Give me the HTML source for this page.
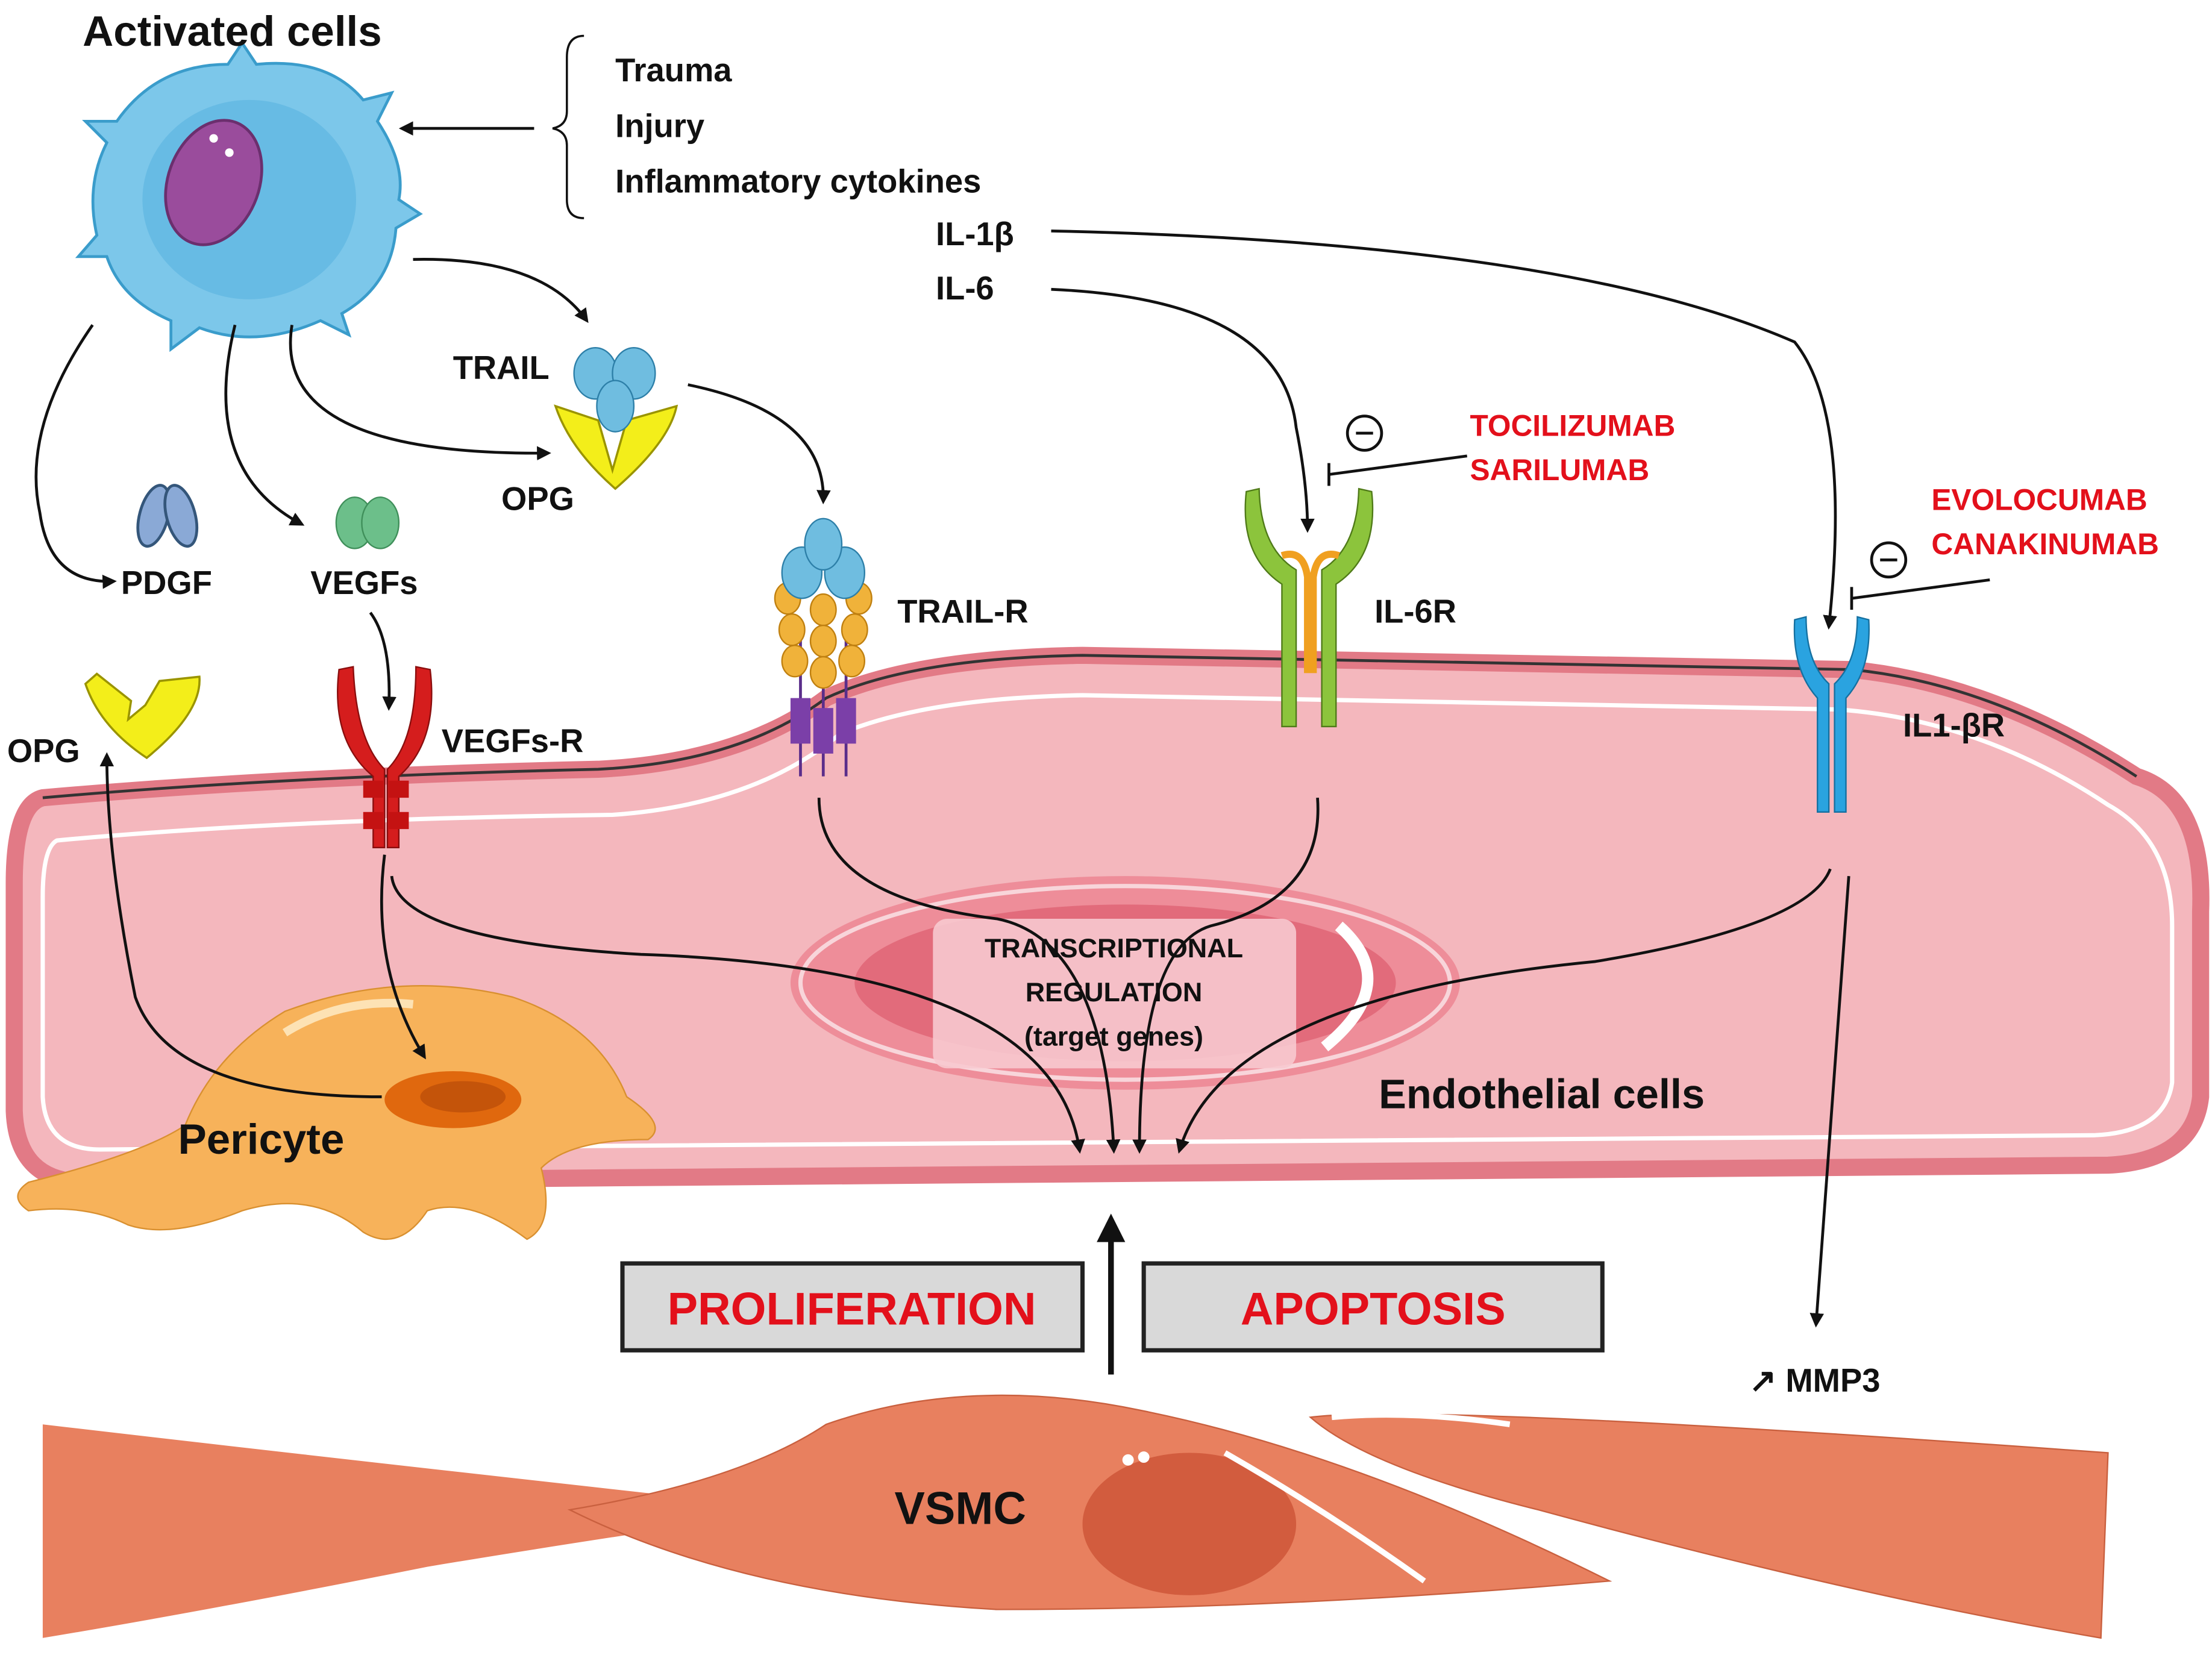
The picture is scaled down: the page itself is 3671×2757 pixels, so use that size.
<!DOCTYPE html>
<html><head><meta charset="utf-8"><style>
html,body{margin:0;padding:0;background:#fff;}
svg{display:block;}
text{font-family:"Liberation Sans",sans-serif;font-weight:bold;}
</style></head><body>
<svg width="3671" height="2757" viewBox="0 0 1553 1166" xmlns="http://www.w3.org/2000/svg">
<defs>
<marker id="a" markerWidth="10" markerHeight="10" refX="8" refY="5" orient="auto" markerUnits="userSpaceOnUse"><path d="M0,0 L10,5 L0,10 Z" fill="#111"/></marker>
</defs>
<rect width="1553" height="1166" fill="#fff"/>

<!-- endothelial cell -->
<path d="M30,560 Q200,545 420,540 Q520,535 580,490 Q640,462 760,460 L1300,470 Q1400,480 1500,545 Q1548,560 1545,640 L1545,770 Q1540,815 1480,818 L60,830 Q12,830 10,780 L10,620 Q10,565 30,560 Z" fill="#f4b7bd" stroke="#e27a86" stroke-width="12"/>
<path d="M30,560 Q200,545 420,540 Q520,535 580,490 Q640,462 760,460 L1300,470 Q1400,480 1500,545" fill="none" stroke="#333" stroke-width="2"/>
<path d="M40,590 Q200,575 430,572 Q530,565 590,515 Q650,490 760,488 L1290,498 Q1390,505 1480,565 Q1525,590 1525,650 L1525,760 Q1520,795 1470,797 L70,807 Q32,807 30,770 L30,630 Q30,595 40,590 Z" fill="none" stroke="#fff" stroke-width="3"/>
<!-- nucleus -->
<ellipse cx="790" cy="690" rx="235" ry="75" fill="#ee8d99"/>
<ellipse cx="790" cy="690" rx="228" ry="68" fill="none" stroke="#f8d5da" stroke-width="3"/>
<ellipse cx="790" cy="690" rx="190" ry="55" fill="#e26b7b"/>
<path d="M940,650 Q985,690 930,735" stroke="#fff" stroke-width="8" fill="none"/>
<rect x="655" y="645" width="255" height="105" rx="10" fill="#f7c9cf" opacity="0.9"/>
<text x="782" y="672" font-size="19" text-anchor="middle" fill="#111">TRANSCRIPTIONAL</text>
<text x="782" y="703" font-size="19" text-anchor="middle" fill="#111">REGULATION</text>
<text x="782" y="734" font-size="19" text-anchor="middle" fill="#111">(target genes)</text>
<text x="968" y="778" font-size="29" fill="#111">Endothelial cells</text>

<!-- pericyte -->
<path d="M20,830 Q100,810 130,790 Q150,740 200,710 Q280,680 360,700 Q420,720 440,770 Q470,790 455,800 Q400,800 380,820 Q390,860 370,870 Q330,840 300,850 Q280,880 255,865 Q220,835 170,850 Q120,870 90,860 Q60,845 20,850 Q5,840 20,830 Z" fill="#f7b25a" stroke="#d99030" stroke-width="1"/>
<path d="M200,725 Q240,700 290,705" stroke="#fde2b4" stroke-width="6" fill="none"/>
<ellipse cx="318" cy="772" rx="48" ry="20" fill="#e0680e"/>
<ellipse cx="325" cy="770" rx="30" ry="11" fill="#c4540a"/>
<text x="125" y="810" font-size="30" fill="#111">Pericyte</text>

<!-- VSMC -->
<path d="M30,1000 Q200,1020 560,1060 Q420,1080 300,1100 Q150,1130 30,1150 Z" fill="#e8805f"/>
<path d="M400,1060 Q520,1040 580,1000 Q680,965 800,990 Q950,1020 1130,1110 Q900,1130 700,1130 Q520,1120 400,1060 Z" fill="#e8805f" stroke="#c9603f" stroke-width="1"/>
<ellipse cx="835" cy="1070" rx="75" ry="50" fill="#d25c3e"/>
<path d="M860,1020 Q930,1060 1000,1110" stroke="#fff" stroke-width="4" fill="none"/>
<circle cx="792" cy="1025" r="4" fill="#fff"/><circle cx="803" cy="1023" r="4" fill="#fff"/>
<text x="628" y="1070" font-size="32" fill="#111">VSMC</text>
<path d="M920,995 Q1000,985 1480,1020 L1475,1150 Q1300,1120 1080,1060 Q960,1030 920,995 Z" fill="#e8805f" stroke="#c9603f" stroke-width="1"/>
<path d="M935,995 Q990,990 1060,1000" stroke="#fff" stroke-width="4" fill="none"/>

<!-- boxes -->
<rect x="437" y="887" width="323" height="61" fill="#d9d9d9" stroke="#222" stroke-width="3"/>
<text x="598" y="930" font-size="32" text-anchor="middle" fill="#e3101b">PROLIFERATION</text>
<rect x="803" y="887" width="322" height="61" fill="#d9d9d9" stroke="#222" stroke-width="3"/>
<text x="964" y="930" font-size="32" text-anchor="middle" fill="#e3101b">APOPTOSIS</text>
<line x1="780" y1="965" x2="780" y2="870" stroke="#111" stroke-width="4"/>
<path d="M770,872 L780,852 L790,872 Z" fill="#111"/>

<!-- activated cell -->
<path d="M170,30 L180,45 Q230,40 255,70 L275,65 L265,85 Q285,115 280,140 L295,150 L278,160 Q275,200 240,220 L245,235 L225,225 Q180,245 140,230 L120,245 L120,225 Q85,210 75,180 L55,180 L68,165 Q60,130 75,100 L60,85 L82,85 Q110,45 160,45 Z" fill="#7cc7ea" stroke="#3a9ccb" stroke-width="2"/>
<ellipse cx="175" cy="140" rx="75" ry="70" fill="#5ab3e0" opacity="0.6"/>
<ellipse cx="150" cy="128" rx="32" ry="45" transform="rotate(20 150 128)" fill="#9a4c9c" stroke="#6b2f6e" stroke-width="2"/>
<circle cx="150" cy="97" r="3" fill="#fff"/><circle cx="161" cy="107" r="3" fill="#fff"/>
<text x="58" y="32" font-size="30" fill="#111">Activated cells</text>

<!-- trigger text -->
<path d="M410,25 Q398,25 398,40 L398,78 Q398,88 388,90 Q398,92 398,102 L398,140 Q398,153 410,153" fill="none" stroke="#111" stroke-width="1.5"/>
<line x1="375" y1="90" x2="282" y2="90" stroke="#111" stroke-width="2" marker-end="url(#a)"/>
<text x="432" y="57" font-size="23" fill="#111">Trauma</text>
<text x="432" y="96" font-size="23" fill="#111">Injury</text>
<text x="432" y="135" font-size="23" fill="#111">Inflammatory  cytokines</text>
<text x="657" y="172" font-size="23" fill="#111">IL-1β</text>
<text x="657" y="210" font-size="23" fill="#111">IL-6</text>

<!-- arrows from activated cell -->
<g fill="none" stroke="#111" stroke-width="2" marker-end="url(#a)">
<path d="M290,182 Q380,180 412,225"/>
<path d="M205,228 Q190,320 385,318"/>
<path d="M165,228 Q140,330 212,368"/>
<path d="M65,228 Q15,300 28,360 Q35,410 80,408"/>
<path d="M483,270 Q580,290 578,352"/>
<path d="M260,430 Q275,450 273,497"/>
<path d="M738,162 Q1100,170 1260,240 Q1300,290 1284,440"/>
<path d="M738,203 Q900,210 910,300 Q918,340 918,372"/>
<path d="M270,600 Q260,680 298,742"/>
<path d="M268,770 Q120,770 95,700 Q75,600 75,530"/>
<path d="M1298,615 L1275,930"/>
<path d="M275,615 Q280,660 450,670 Q740,680 758,808"/>
<path d="M575,560 Q575,630 700,645 Q775,660 782,808"/>
<path d="M925,560 Q930,630 850,650 Q800,665 800,808"/>
<path d="M1285,610 Q1270,650 1120,675 Q860,700 828,808"/>
</g>

<!-- ligands -->
<g stroke="#34567a" stroke-width="2" fill="#8aa9d6">
<ellipse cx="108" cy="362" rx="10" ry="22" transform="rotate(15 108 362)"/>
<ellipse cx="127" cy="362" rx="10" ry="22" transform="rotate(-15 127 362)"/>
</g>
<ellipse cx="249" cy="367" rx="13" ry="18" fill="#6cbf8a" stroke="#3f8f5a"/>
<ellipse cx="267" cy="367" rx="13" ry="18" fill="#6cbf8a" stroke="#3f8f5a"/>
<text x="85" y="417" font-size="23" fill="#111">PDGF</text>
<text x="218" y="417" font-size="23" fill="#111">VEGFs</text>

<!-- TRAIL + OPG top -->
<path d="M390,285 L420,295 L430,330 L440,295 L475,285 Q470,310 432,343 Q400,315 390,285 Z" fill="#f3ee1a" stroke="#9a9400" stroke-width="1.5"/>
<ellipse cx="418" cy="262" rx="15" ry="18" fill="#6fbde0" stroke="#2d7fa8"/>
<ellipse cx="445" cy="262" rx="15" ry="18" fill="#6fbde0" stroke="#2d7fa8"/>
<ellipse cx="432" cy="285" rx="13" ry="18" fill="#6fbde0" stroke="#2d7fa8"/>
<text x="318" y="266" font-size="23" fill="#111">TRAIL</text>
<text x="352" y="358" font-size="23" fill="#111">OPG</text>

<!-- OPG left -->
<path d="M60,480 L68,473 L92,492 L90,505 L102,495 L112,478 L140,475 Q142,500 103,532 Q70,510 60,480 Z" fill="#f3ee1a" stroke="#9a9400" stroke-width="1.5"/>
<text x="5" y="535" font-size="23" fill="#111">OPG</text>

<!-- VEGFs-R -->
<path d="M238,470 Q232,520 262,545 L262,595 L270,595 L270,540 Q250,520 248,468 Z" fill="#d51d1d" stroke="#8a0e0e" stroke-width="1"/>
<path d="M302,470 Q308,520 280,545 L280,595 L272,595 L272,540 Q292,520 292,468 Z" fill="#d51d1d" stroke="#8a0e0e" stroke-width="1"/>
<rect x="255" y="548" width="14" height="12" fill="#c41212"/><rect x="273" y="548" width="14" height="12" fill="#c41212"/>
<rect x="255" y="570" width="14" height="12" fill="#c41212"/><rect x="273" y="570" width="14" height="12" fill="#c41212"/>
<text x="310" y="528" font-size="23" fill="#111">VEGFs-R</text>

<!-- TRAIL-R -->
<g stroke="#5a2d8a" stroke-width="2"><line x1="562" y1="440" x2="562" y2="545"/><line x1="578" y1="440" x2="578" y2="545"/><line x1="594" y1="440" x2="594" y2="545"/></g>
<rect x="555" y="490" width="14" height="32" fill="#7b3fa8"/><rect x="571" y="497" width="14" height="32" fill="#7b3fa8"/><rect x="587" y="490" width="14" height="32" fill="#7b3fa8"/>
<g fill="#f0b23a" stroke="#c08010" stroke-width="1">
<ellipse cx="553" cy="420" rx="9" ry="11"/><ellipse cx="556" cy="442" rx="9" ry="11"/><ellipse cx="558" cy="464" rx="9" ry="11"/>
<ellipse cx="578" cy="428" rx="9" ry="11"/><ellipse cx="578" cy="450" rx="9" ry="11"/><ellipse cx="578" cy="472" rx="9" ry="11"/>
<ellipse cx="603" cy="420" rx="9" ry="11"/><ellipse cx="600" cy="442" rx="9" ry="11"/><ellipse cx="598" cy="464" rx="9" ry="11"/>
</g>
<g fill="#6fbde0" stroke="#2d7fa8"><ellipse cx="563" cy="402" rx="14" ry="18"/><ellipse cx="593" cy="402" rx="14" ry="18"/><ellipse cx="578" cy="382" rx="13" ry="18"/></g>
<text x="630" y="437" font-size="23" fill="#111">TRAIL-R</text>

<!-- IL-6R -->
<path d="M875,345 Q870,390 900,410 L900,510 L910,510 L910,400 Q885,385 884,343 Z" fill="#8cc43c" stroke="#4f7a18"/>
<path d="M963,345 Q968,390 938,410 L938,510 L928,510 L928,400 Q953,385 954,343 Z" fill="#8cc43c" stroke="#4f7a18"/>
<path d="M900,390 Q915,385 918,405 L918,470 L922,470 L922,405 Q925,385 940,390" fill="none" stroke="#f0a020" stroke-width="5"/>
<text x="965" y="437" font-size="23" fill="#111">IL-6R</text>
<circle cx="958" cy="304" r="12" fill="#fff" stroke="#111" stroke-width="2"/><line x1="952" y1="304" x2="964" y2="304" stroke="#111" stroke-width="2"/>
<line x1="933" y1="333" x2="1030" y2="320" stroke="#111" stroke-width="2"/><line x1="933" y1="325" x2="933" y2="341" stroke="#111" stroke-width="2"/>
<text x="1032" y="306" font-size="21" fill="#e3101b">TOCILIZUMAB</text>
<text x="1032" y="337" font-size="21" fill="#e3101b">SARILUMAB</text>

<!-- IL1-bR -->
<path d="M1260,435 Q1258,470 1276,490 L1276,570 L1284,570 L1284,480 Q1268,465 1268,433 Z" fill="#2aa3e0" stroke="#1570a0"/>
<path d="M1312,435 Q1314,470 1296,490 L1296,570 L1288,570 L1288,480 Q1304,465 1304,433 Z" fill="#2aa3e0" stroke="#1570a0"/>
<text x="1336" y="517" font-size="23" fill="#111">IL1-βR</text>
<circle cx="1326" cy="393" r="12" fill="#fff" stroke="#111" stroke-width="2"/><line x1="1320" y1="393" x2="1332" y2="393" stroke="#111" stroke-width="2"/>
<line x1="1300" y1="420" x2="1397" y2="407" stroke="#111" stroke-width="2"/><line x1="1300" y1="412" x2="1300" y2="428" stroke="#111" stroke-width="2"/>
<text x="1356" y="358" font-size="21" fill="#e3101b">EVOLOCUMAB</text>
<text x="1356" y="389" font-size="21" fill="#e3101b">CANAKINUMAB</text>

<text x="1228" y="977" font-size="23" fill="#111">↗ MMP3</text>
</svg>
</body></html>
